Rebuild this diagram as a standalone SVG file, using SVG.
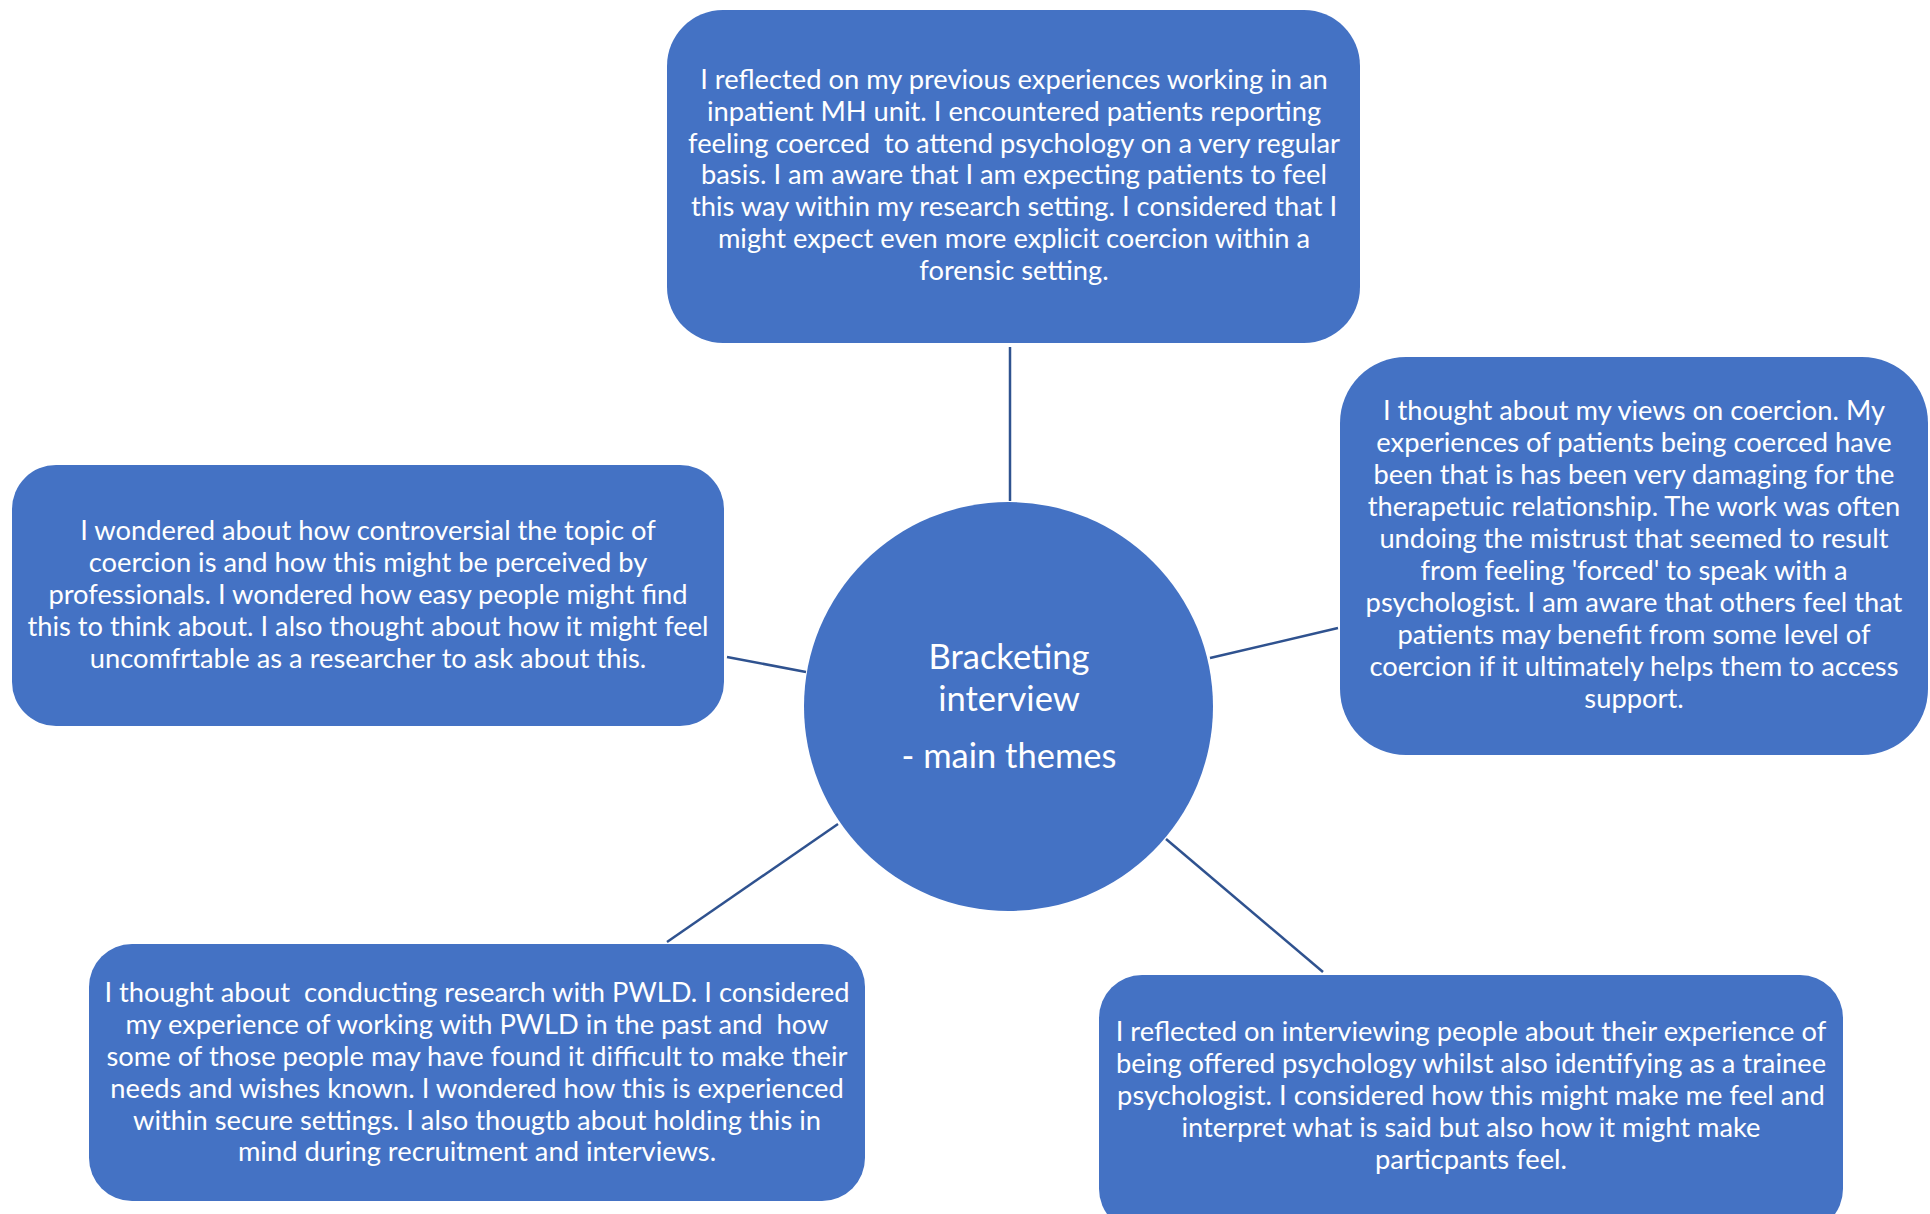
<svg xmlns="http://www.w3.org/2000/svg" width="1930" height="1214" viewBox="0 0 1930 1214">
  <style>
    .box { fill: #4472C4; }
    .link { stroke: #2F528F; stroke-width: 2.5; fill: none; }
    .txt { font-family: Lato, "Liberation Sans", sans-serif; font-size: 27.3px; fill: #FFFFFF; text-anchor: middle; white-space: pre; }
    .hub { font-family: Lato, "Liberation Sans", sans-serif; font-size: 34.5px; fill: #FFFFFF; text-anchor: middle; }
  </style>
  <rect width="1930" height="1214" fill="#FFFFFF"/>

  <!-- spokes from the hub to each theme -->
  <g id="connectors">
    <line class="link" x1="1010" y1="347" x2="1010" y2="501"/>
    <line class="link" x1="727" y1="657" x2="806" y2="672"/>
    <line class="link" x1="1210" y1="658" x2="1338" y2="628"/>
    <line class="link" x1="838" y1="824" x2="667" y2="942"/>
    <line class="link" x1="1166" y1="839" x2="1323" y2="972"/>
  </g>

  <g id="hub">
    <circle class="box" cx="1008.5" cy="706.5" r="204.5"/>
    <text class="hub" x="1009" y="669">Bracketing</text>
    <text class="hub" x="1009" y="711">interview</text>
    <text class="hub" x="1009" y="768">- main themes</text>
  </g>

  <g id="theme-inpatient">
    <rect class="box" x="667" y="10" width="693" height="333" rx="56" ry="56"/>
    <g transform="translate(0 2)">
      <text class="txt" x="1014" y="87">I reflected on my previous experiences working in an</text>
      <text class="txt" x="1014" y="119">inpatient MH unit. I encountered patients reporting</text>
      <text class="txt" x="1014" y="151">feeling coerced  to attend psychology on a very regular</text>
      <text class="txt" x="1014" y="182">basis. I am aware that I am expecting patients to feel</text>
      <text class="txt" x="1014" y="214">this way within my research setting. I considered that I</text>
      <text class="txt" x="1014" y="246">might expect even more explicit coercion within a</text>
      <text class="txt" x="1014" y="278">forensic setting.</text>
    </g>
  </g>

  <g id="theme-views">
    <rect class="box" x="1340" y="357" width="588" height="398" rx="66" ry="66"/>
    <g transform="translate(0 2)">
      <text class="txt" x="1634" y="418">I thought about my views on coercion. My</text>
      <text class="txt" x="1634" y="450">experiences of patients being coerced have</text>
      <text class="txt" x="1634" y="482">been that is has been very damaging for the</text>
      <text class="txt" x="1634" y="514">therapetuic relationship. The work was often</text>
      <text class="txt" x="1634" y="546">undoing the mistrust that seemed to result</text>
      <text class="txt" x="1634" y="578">from feeling 'forced' to speak with a</text>
      <text class="txt" x="1634" y="610">psychologist. I am aware that others feel that</text>
      <text class="txt" x="1634" y="642">patients may benefit from some level of</text>
      <text class="txt" x="1634" y="674">coercion if it ultimately helps them to access</text>
      <text class="txt" x="1634" y="706">support.</text>
    </g>
  </g>

  <g id="theme-controversy">
    <rect class="box" x="12" y="465" width="712" height="261" rx="44" ry="44"/>
    <g transform="translate(0 2)">
      <text class="txt" x="368" y="538">I wondered about how controversial the topic of</text>
      <text class="txt" x="368" y="570">coercion is and how this might be perceived by</text>
      <text class="txt" x="368" y="602">professionals. I wondered how easy people might find</text>
      <text class="txt" x="368" y="634">this to think about. I also thought about how it might feel</text>
      <text class="txt" x="368" y="666">uncomfrtable as a researcher to ask about this.</text>
    </g>
  </g>

  <g id="theme-pwld">
    <rect class="box" x="89" y="944" width="776" height="257" rx="43" ry="43"/>
    <g transform="translate(0 2)">
      <text class="txt" x="477" y="1000">I thought about  conducting research with PWLD. I considered</text>
      <text class="txt" x="477" y="1032">my experience of working with PWLD in the past and  how</text>
      <text class="txt" x="477" y="1064">some of those people may have found it difficult to make their</text>
      <text class="txt" x="477" y="1096">needs and wishes known. I wondered how this is experienced</text>
      <text class="txt" x="477" y="1128">within secure settings. I also thougtb about holding this in</text>
      <text class="txt" x="477" y="1159">mind during recruitment and interviews.</text>
    </g>
  </g>

  <g id="theme-trainee">
    <rect class="box" x="1099" y="975" width="744" height="257" rx="43" ry="43"/>
    <g transform="translate(0 2)">
      <text class="txt" x="1471" y="1039">I reflected on interviewing people about their experience of</text>
      <text class="txt" x="1471" y="1071">being offered psychology whilst also identifying as a trainee</text>
      <text class="txt" x="1471" y="1103">psychologist. I considered how this might make me feel and</text>
      <text class="txt" x="1471" y="1135">interpret what is said but also how it might make</text>
      <text class="txt" x="1471" y="1167">particpants feel.</text>
    </g>
  </g>
</svg>
